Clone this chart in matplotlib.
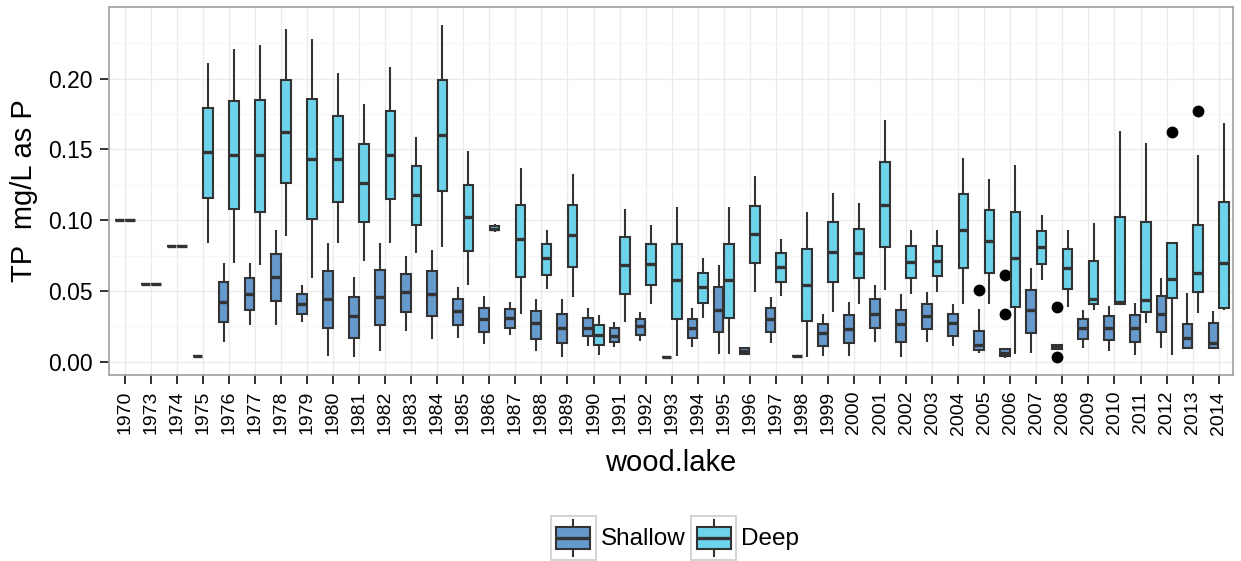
import matplotlib
matplotlib.use("Agg")
import matplotlib.pyplot as plt
from matplotlib.patches import Rectangle, Patch
from matplotlib.lines import Line2D
from matplotlib.legend_handler import HandlerBase

plt.rcParams['font.family'] = ['Liberation Sans', 'DejaVu Sans']

years = [1970, 1973, 1974] + list(range(1975, 2015))

# Shallow stations: lower whisker, Q1, median, Q3, upper whisker
shallow_lo = [0.100, 0.055, 0.082, 0.004, 0.014, 0.026, 0.026, 0.028, 0.004, 0.0035,
              0.0075, 0.022, 0.016, 0.017, 0.0125, 0.019, 0.0075, 0.0035, 0.011, 0.0105,
              0.0145, 0.0035, 0.0105, 0.0055, 0.005, 0.0135, 0.004, 0.004, 0.004, 0.014,
              0.003, 0.014, 0.011, 0.0065, 0.0025, 0.0065, 0.009, 0.0095, 0.0075, 0.0047,
              0.0095, 0.009, 0.0092]
shallow_q1 = [0.100, 0.055, 0.082, 0.004, 0.028, 0.0365, 0.043, 0.034, 0.024, 0.017,
              0.026, 0.035, 0.032, 0.026, 0.021, 0.024, 0.016, 0.013, 0.018, 0.014,
              0.019, 0.0035, 0.017, 0.021, 0.0055, 0.021, 0.004, 0.011, 0.0135, 0.0235,
              0.014, 0.023, 0.0185, 0.008, 0.004, 0.0205, 0.0093, 0.016, 0.0155, 0.014,
              0.021, 0.0098, 0.0099]
shallow_med = [0.100, 0.055, 0.082, 0.004, 0.042, 0.048, 0.060, 0.041, 0.044, 0.032,
               0.046, 0.049, 0.048, 0.036, 0.030, 0.031, 0.027, 0.024, 0.024, 0.018,
               0.025, 0.0035, 0.024, 0.0365, 0.0075, 0.030, 0.004, 0.0205, 0.023, 0.034,
               0.0265, 0.0325, 0.0275, 0.012, 0.0065, 0.0365, 0.0105, 0.024, 0.0235, 0.0236,
               0.0340, 0.0165, 0.013]
shallow_q3 = [0.100, 0.055, 0.082, 0.004, 0.056, 0.059, 0.076, 0.048, 0.064, 0.046,
              0.065, 0.062, 0.064, 0.044, 0.038, 0.037, 0.0355, 0.034, 0.031, 0.0235,
              0.030, 0.0035, 0.0305, 0.0525, 0.0095, 0.038, 0.004, 0.0265, 0.033, 0.044,
              0.0365, 0.041, 0.0335, 0.022, 0.0088, 0.051, 0.0118, 0.030, 0.032, 0.033,
              0.0464, 0.0264, 0.0276]
shallow_hi = [0.100, 0.055, 0.082, 0.004, 0.070, 0.070, 0.093, 0.054, 0.084, 0.060,
              0.084, 0.075, 0.079, 0.0525, 0.0465, 0.042, 0.0445, 0.044, 0.038, 0.028,
              0.035, 0.0035, 0.038, 0.068, 0.010, 0.046, 0.004, 0.034, 0.042, 0.054,
              0.048, 0.0495, 0.041, 0.0375, 0.0095, 0.066, 0.012, 0.0365, 0.0395, 0.0417,
              0.0589, 0.0488, 0.0358]
shallow_out = {2005: [0.051], 2006: [0.061, 0.034], 2008: [0.039, 0.003]}

# Deep stations
deep_lo = [0.100, 0.055, 0.082, 0.084, 0.070, 0.068, 0.089, 0.059, 0.084, 0.0715,
           0.084, 0.0765, 0.081, 0.0545, 0.092, 0.034, 0.0515, 0.0455, 0.0045, 0.028,
           0.0405, 0.004, 0.031, 0.0055, 0.049, 0.0465, 0.003, 0.035, 0.041, 0.051,
           0.048, 0.049, 0.041, 0.041, 0.0055, 0.0575, 0.0385, 0.0365, 0.0405, 0.0271,
           0.0047, 0.0342, 0.0365]
deep_q1 = [0.100, 0.055, 0.082, 0.116, 0.108, 0.106, 0.126, 0.101, 0.113, 0.099,
           0.115, 0.0965, 0.1205, 0.078, 0.093, 0.060, 0.061, 0.067, 0.0115, 0.048,
           0.054, 0.0305, 0.0415, 0.031, 0.0695, 0.0565, 0.0285, 0.0565, 0.059, 0.081,
           0.0595, 0.0605, 0.0665, 0.063, 0.039, 0.069, 0.0515, 0.0405, 0.041, 0.0353,
           0.0448, 0.0495, 0.0377]
deep_med = [0.100, 0.055, 0.082, 0.148, 0.146, 0.146, 0.162, 0.1435, 0.1435, 0.1265,
            0.146, 0.1175, 0.160, 0.102, 0.094, 0.0865, 0.073, 0.0895, 0.019, 0.068,
            0.069, 0.0575, 0.0525, 0.0575, 0.090, 0.067, 0.054, 0.0775, 0.0765, 0.111,
            0.0705, 0.0715, 0.093, 0.085, 0.073, 0.081, 0.066, 0.0445, 0.042, 0.0436,
            0.0584, 0.0625, 0.0700]
deep_q3 = [0.100, 0.055, 0.082, 0.1795, 0.184, 0.185, 0.199, 0.186, 0.1735, 0.154,
           0.177, 0.1385, 0.199, 0.125, 0.096, 0.111, 0.083, 0.111, 0.026, 0.088,
           0.083, 0.0835, 0.0625, 0.0835, 0.110, 0.0765, 0.080, 0.099, 0.094, 0.141,
           0.0815, 0.082, 0.1185, 0.107, 0.106, 0.0925, 0.0795, 0.071, 0.1025, 0.0989,
           0.0841, 0.0966, 0.1131]
deep_hi = [0.100, 0.055, 0.082, 0.211, 0.221, 0.224, 0.235, 0.228, 0.204, 0.182,
           0.208, 0.1585, 0.238, 0.149, 0.097, 0.137, 0.093, 0.133, 0.033, 0.108,
           0.0965, 0.1095, 0.073, 0.1095, 0.131, 0.087, 0.1055, 0.1195, 0.112, 0.171,
           0.093, 0.093, 0.144, 0.129, 0.139, 0.1035, 0.093, 0.098, 0.163, 0.1543,
           0.0841, 0.146, 0.1685]
deep_out = {2012: [0.1625], 2013: [0.1774]}

y_ticks = [0.00, 0.05, 0.10, 0.15, 0.20]
y_minor = [0.025, 0.075, 0.125, 0.175, 0.225]

SHALLOW = '#6699CC'
DEEP = '#6DD3EA'
EDGE = '#333333'
LW = 1.5

W, H = 1241, 561
fig = plt.figure(figsize=(W / 100, H / 100), dpi=100)
ax = fig.add_axes([109 / W, 1 - 375 / H, (1233 - 109) / W, (375 - 7) / H])


def stats_for(lo, q1, med, q3, hi, out):
    res = []
    for i, yr in enumerate(years):
        res.append(dict(whislo=lo[i], q1=q1[i], med=med[i], q3=q3[i],
                        whishi=hi[i], fliers=out.get(yr, []), label=str(yr)))
    return res


def draw_group(stats, offset, color):
    pos = [i + offset for i in range(len(years))]
    ax.bxp(stats, positions=pos, widths=0.37, patch_artist=True,
           showcaps=False, manage_ticks=False,
           boxprops=dict(facecolor=color, edgecolor=EDGE, linewidth=LW),
           whiskerprops=dict(color=EDGE, linewidth=LW, solid_capstyle='butt'),
           medianprops=dict(color=EDGE, linewidth=2.4, solid_capstyle='butt'),
           flierprops=dict(marker='o', markerfacecolor='black',
                           markeredgecolor='black', markersize=7.5))


draw_group(stats_for(shallow_lo, shallow_q1, shallow_med, shallow_q3, shallow_hi,
                     shallow_out), -0.2, SHALLOW)
draw_group(stats_for(deep_lo, deep_q1, deep_med, deep_q3, deep_hi, deep_out),
           0.2, DEEP)

ax.set_xlim(-0.6, 42.55)
ax.set_ylim(-0.0094, 0.2507)
ax.set_xticks(range(len(years)))
ax.set_xticklabels([str(y) for y in years], rotation=90)
ax.set_yticks(y_ticks)
ax.set_yticklabels([f"{v:.2f}" for v in y_ticks])
ax.set_yticks(y_minor, minor=True)
ax.tick_params(axis='y', which='minor', length=0)
ax.tick_params(axis='both', which='major', length=6.5, width=1.3,
               color='#222222', pad=5)
ax.tick_params(axis='y', labelsize=16.5)
ax.tick_params(axis='x', labelsize=14)

ax.set_axisbelow(True)
ax.grid(which='major', color='#EBEBEB', linewidth=1.0)
ax.grid(which='minor', axis='y', color='#F6F6F6', linewidth=0.8)
for s in ax.spines.values():
    s.set_color('#A0A0A0')
    s.set_linewidth(1.2)

ax.set_ylabel('TP  mg/L as P', fontsize=21)
ax.yaxis.label.set(va='center', ha='center')
ax.yaxis.set_label_coords(-0.0756, 0.5)
ax.set_xlabel('wood.lake', fontsize=21)
ax.xaxis.label.set(va='center', ha='center')
ax.xaxis.set_label_coords(0.5, -0.239)


class BoxKey(HandlerBase):
    def create_artists(self, legend, orig_handle, xdescent, ydescent,
                       width, height, fontsize, trans):
        x0, y0 = -xdescent, -ydescent
        fc = orig_handle.get_facecolor()
        cx = x0 + width / 2
        arts = [
            Rectangle((x0, y0), width, height, facecolor='white',
                      edgecolor='#CCCCCC', linewidth=1.2, transform=trans),
            Line2D([cx, cx], [y0 + 0.1 * height, y0 + 0.25 * height],
                   color=EDGE, linewidth=LW, transform=trans),
            Line2D([cx, cx], [y0 + 0.75 * height, y0 + 0.9 * height],
                   color=EDGE, linewidth=LW, transform=trans),
            Rectangle((x0 + 0.12 * width, y0 + 0.25 * height), 0.76 * width,
                      0.5 * height, facecolor=fc, edgecolor=EDGE,
                      linewidth=LW, transform=trans),
            Line2D([x0 + 0.12 * width, x0 + 0.88 * width],
                   [y0 + 0.5 * height] * 2, color=EDGE, linewidth=2.4,
                   solid_capstyle='butt', transform=trans),
        ]
        return arts


handles = [Patch(facecolor=SHALLOW), Patch(facecolor=DEEP)]
fig.legend(handles, ['Shallow', 'Deep'], loc='center',
           bbox_to_anchor=(675 / W, 1 - 538 / H), ncol=2, frameon=False,
           fontsize=17.5, handlelength=1.85, handleheight=2.47,
           handletextpad=0.2, columnspacing=0.25,
           handler_map={Patch: BoxKey()})

fig.savefig('out.png', dpi=100)
